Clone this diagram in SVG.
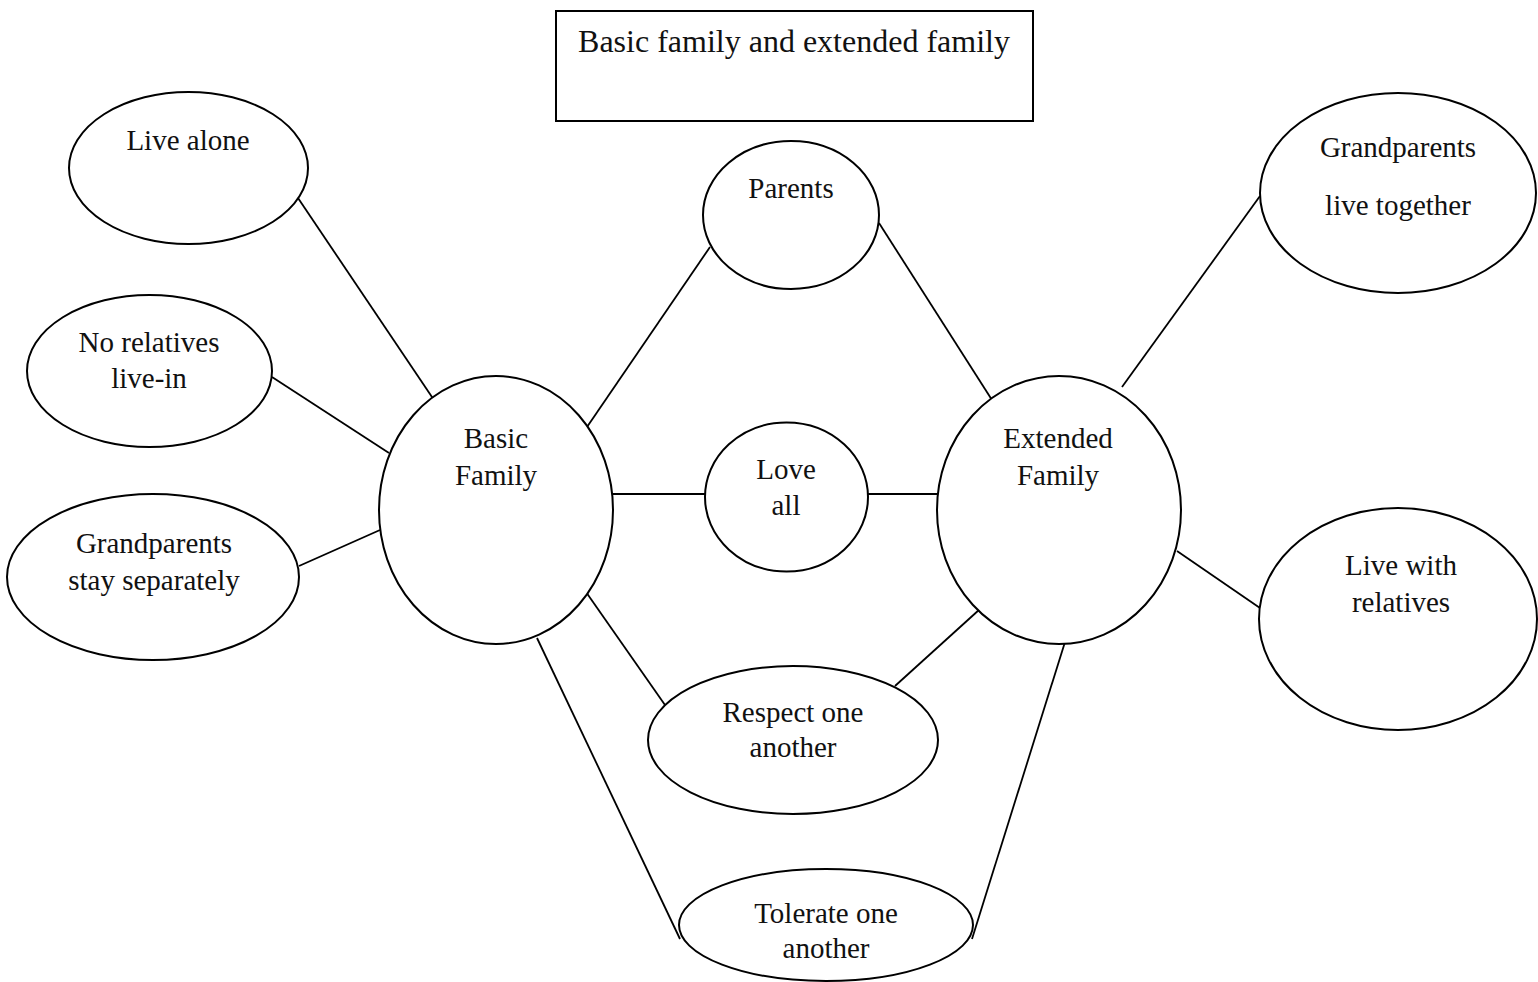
<svg xmlns="http://www.w3.org/2000/svg" width="1538" height="982" viewBox="0 0 1538 982">
  <style>
    .shape { fill: #ffffff; stroke: #000000; stroke-width: 2; }
    .link { stroke: #000000; stroke-width: 1.8; fill: none; }
    text { font-family: "Liberation Serif", "Times New Roman", serif; font-size: 29px; fill: #111111; text-anchor: middle; }
    .title { font-size: 32px; }
  </style>
  <rect width="1538" height="982" fill="#ffffff"/>

  <!-- connectors -->
  <g id="connectors">
    <line class="link" x1="298" y1="198" x2="434" y2="400"/>
    <line class="link" x1="272" y1="377" x2="389" y2="453"/>
    <line class="link" x1="299" y1="566" x2="380" y2="530"/>
    <line class="link" x1="587" y1="427" x2="710" y2="247"/>
    <line class="link" x1="613" y1="494" x2="705" y2="494"/>
    <line class="link" x1="586" y1="592" x2="665" y2="705"/>
    <line class="link" x1="537" y1="638" x2="680" y2="939"/>
    <line class="link" x1="879" y1="223" x2="992" y2="400"/>
    <line class="link" x1="868" y1="494" x2="938" y2="494"/>
    <line class="link" x1="895" y1="686" x2="980" y2="609"/>
    <line class="link" x1="1065" y1="642" x2="972" y2="939"/>
    <line class="link" x1="1122" y1="387" x2="1260" y2="196"/>
    <line class="link" x1="1177" y1="551" x2="1260" y2="608"/>
  </g>

  <g id="title">
    <rect class="shape" x="556" y="11" width="477" height="110"/>
    <text class="title" x="794" y="52">Basic family and extended family</text>
  </g>

  <g id="live-alone">
    <ellipse class="shape" cx="188.5" cy="168" rx="119.5" ry="76"/>
    <text x="188" y="150">Live alone</text>
  </g>

  <g id="no-relatives">
    <ellipse class="shape" cx="149.5" cy="371" rx="122.5" ry="76"/>
    <text x="149" y="352">No relatives</text>
    <text x="149" y="388">live-in</text>
  </g>

  <g id="grandparents-separately">
    <ellipse class="shape" cx="153" cy="577" rx="146" ry="83"/>
    <text x="154" y="553">Grandparents</text>
    <text x="154" y="590">stay separately</text>
  </g>

  <g id="basic-family">
    <ellipse class="shape" cx="496" cy="510" rx="117" ry="134"/>
    <text x="496" y="448">Basic</text>
    <text x="496" y="485">Family</text>
  </g>

  <g id="parents">
    <ellipse class="shape" cx="791" cy="215" rx="88" ry="74"/>
    <text x="791" y="198">Parents</text>
  </g>

  <g id="love-all">
    <ellipse class="shape" cx="786.5" cy="497" rx="81.5" ry="74.5"/>
    <text x="786" y="479">Love</text>
    <text x="786" y="515">all</text>
  </g>

  <g id="respect">
    <ellipse class="shape" cx="793" cy="740" rx="145" ry="74"/>
    <text x="793" y="722">Respect one</text>
    <text x="793" y="757">another</text>
  </g>

  <g id="tolerate">
    <ellipse class="shape" cx="826" cy="925" rx="147" ry="56"/>
    <text x="826" y="923">Tolerate one</text>
    <text x="826" y="958">another</text>
  </g>

  <g id="extended-family">
    <ellipse class="shape" cx="1059" cy="510" rx="122" ry="134"/>
    <text x="1058" y="448">Extended</text>
    <text x="1058" y="485">Family</text>
  </g>

  <g id="grandparents-together">
    <ellipse class="shape" cx="1398" cy="193" rx="138" ry="100"/>
    <text x="1398" y="157">Grandparents</text>
    <text x="1398" y="215">live together</text>
  </g>

  <g id="live-with-relatives">
    <ellipse class="shape" cx="1398" cy="619" rx="139" ry="111"/>
    <text x="1401" y="575">Live with</text>
    <text x="1401" y="612">relatives</text>
  </g>
</svg>
